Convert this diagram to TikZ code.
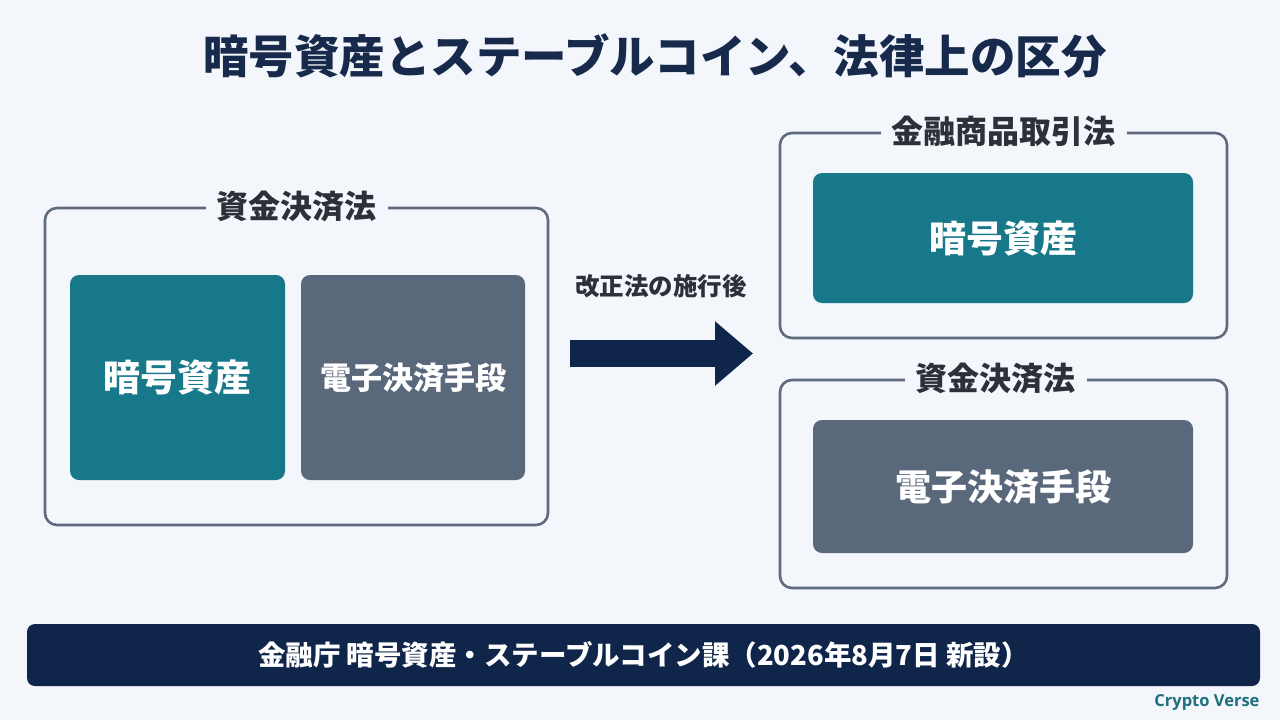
\documentclass[tikz,border=0pt]{standalone}
\usepackage{fontspec}
\usepackage{xcolor}
\usetikzlibrary{arrows.meta}
\newfontfamily\jpfont{Noto Sans CJK JP}
\newfontfamily\brandfont{Open Sans}
\definecolor{slidebg}{HTML}{F3F6FA}
\definecolor{titlenavy}{HTML}{172A4B}
\definecolor{labelgray}{HTML}{2C3038}
\definecolor{framegray}{HTML}{5F6B7C}
\definecolor{assetteal}{HTML}{17788A}
\definecolor{payslate}{HTML}{5A687C}
\definecolor{barnavy}{HTML}{10254A}
\definecolor{brandteal}{HTML}{1E6E7E}

\begin{document}
\begin{tikzpicture}[x=1pt,y=-1pt,
  lawframe/.style={draw=framegray,line width=2.6pt,rounded corners=12pt,inner sep=0pt},
  lawlabel/.style={fill=slidebg,text=labelgray,inner xsep=11pt,inner ysep=1pt,
    font=\jpfont\bfseries\fontsize{32}{36}\selectfont},
  assetbox/.style={fill=assetteal,text=white,rounded corners=9pt,inner sep=0pt,
    font=\jpfont\bfseries\fontsize{37}{40}\selectfont},
  paybox/.style={fill=payslate,text=white,rounded corners=9pt,inner sep=0pt,
    font=\jpfont\bfseries\fontsize{31}{36}\selectfont}]
  \fill[slidebg] (0,0) rectangle (1280,720);
  \useasboundingbox (0,0) rectangle (1280,720);

  % title
  \node[text=titlenavy,font=\jpfont\bfseries\fontsize{45.5}{50}\selectfont] (title) at (655,56)
    {暗号資産とステーブルコイン、法律上の区分};

  % before: one law
  \node[lawframe,minimum width=503pt,minimum height=317pt] (oldframe) at (296.5,366.5) {};
  \node[lawlabel] (oldlaw) at (oldframe.north) {資金決済法};
  \node[assetbox,minimum width=215pt,minimum height=205pt] (oldasset) at (177.5,377.5) {暗号資産};
  \node[paybox,minimum width=224pt,minimum height=205pt] (oldpay) at (413,377.5) {電子決済手段};

  % transition arrow
  \coordinate (arrstart) at (570,353.5);
  \coordinate (arrend) at (753,353.5);
  \draw[barnavy,line width=27pt,-{Triangle[length=38pt,width=62pt]}] (arrstart) -- (arrend);
  \node[text=labelgray,font=\jpfont\bfseries\fontsize{24.5}{28}\selectfont] (arrlabel) at (661,286)
    {改正法の施行後};

  % after: two laws
  \node[lawframe,minimum width=447pt,minimum height=205pt] (fiframe) at (1003.5,235.5) {};
  \node[lawlabel] (filaw) at (fiframe.north) {金融商品取引法};
  \node[assetbox,minimum width=380pt,minimum height=130pt] (newasset) at (1003,238) {暗号資産};

  \node[lawframe,minimum width=447pt,minimum height=208pt] (psframe) at (1003.5,484) {};
  \node[lawlabel] (pslaw) at ([xshift=-8pt]psframe.north) {資金決済法};
  \node[paybox,minimum width=380pt,minimum height=133pt,
    font=\jpfont\bfseries\fontsize{36}{40}\selectfont] (newpay) at (1003,486.5) {電子決済手段};

  % footer
  \node[fill=barnavy,text=white,rounded corners=8pt,minimum width=1233pt,minimum height=62pt,
    inner sep=0pt,font=\jpfont\bfseries\fontsize{27.5}{30}\selectfont] (footbar) at (643.5,655)
    {金融庁 暗号資産・ステーブルコイン課（2026年8月7日 新設）};
  \node[anchor=east,text=brandteal,font=\brandfont\bfseries\fontsize{16.5}{18}\selectfont] (brand)
    at (1263,702) {Crypto Verse};
\end{tikzpicture}
\end{document}
